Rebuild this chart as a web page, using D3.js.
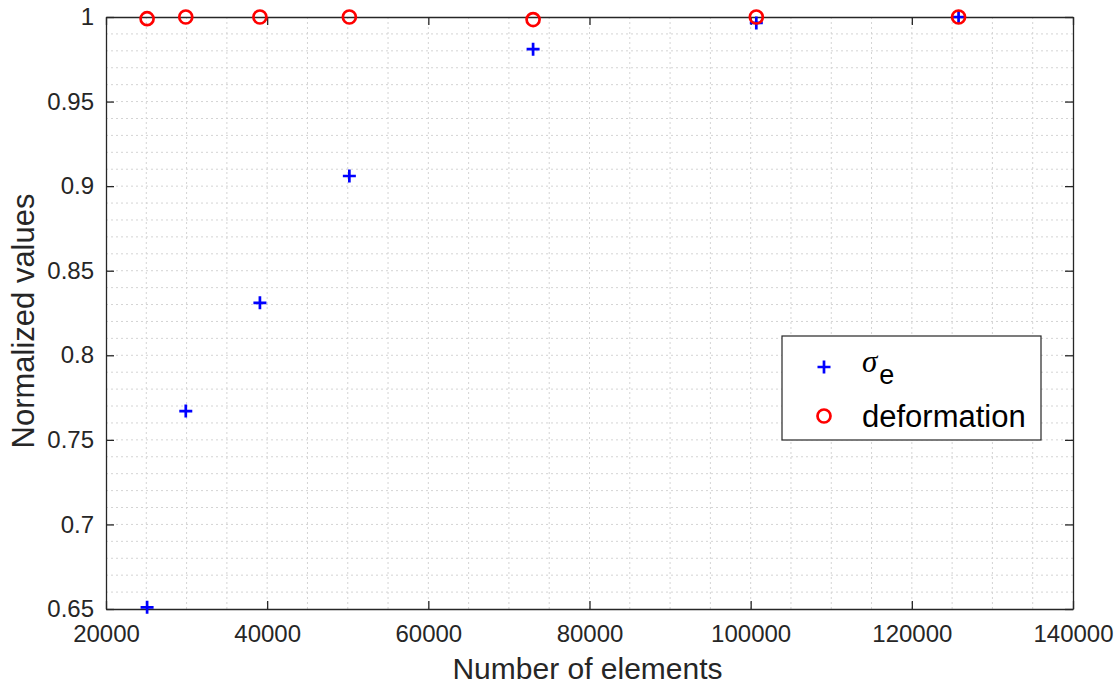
<!DOCTYPE html>
<html>
<head>
<meta charset="utf-8">
<script src="https://cdn.jsdelivr.net/npm/d3@7"></script>
<style>
  body { margin: 0; background: #fff; }
  text { font-family: "Liberation Sans", Arial, sans-serif; fill: #262626; }
</style>
</head>
<body>
<svg width="1117" height="687"></svg>
<script>
const elements = [25100, 29900, 39100, 50200, 73000, 100700, 125800];
const sigmaE = [0.651, 0.767, 0.831, 0.906, 0.981, 0.9965, 1.0];
const deformation = [0.999, 1.0, 1.0, 1.0, 0.9985, 1.0, 1.0];
const xTicks = [20000, 40000, 60000, 80000, 100000, 120000, 140000];
const yTicks = [0.65, 0.7, 0.75, 0.8, 0.85, 0.9, 0.95, 1];

const svg = d3.select("svg"),
  margin = { top: 17, right: 44, bottom: 78, left: 106 },
  width = 1117 - margin.left - margin.right,
  height = 687 - margin.top - margin.bottom;

const x = d3.scaleLinear().domain([20000, 140000]).range([0, width]);
const y = d3.scaleLinear().domain([0.65, 1]).range([height, 0]);

const g = svg.append("g")
  .attr("transform", "translate(" + margin.left + "," + margin.top + ")");

// minor dotted grid
const xMinor = d3.range(25000, 140000, 5000);
const yMinor = d3.range(66, 100).map(d => d / 100);
g.append("g").selectAll("line").data(xMinor).join("line")
  .attr("x1", d => x(d)).attr("x2", d => x(d))
  .attr("y1", 0).attr("y2", height)
  .attr("stroke", "#d4d4d4").attr("stroke-dasharray", "2,3");
g.append("g").selectAll("line").data(yMinor).join("line")
  .attr("y1", d => y(d)).attr("y2", d => y(d))
  .attr("x1", 0).attr("x2", width)
  .attr("stroke", "#d4d4d4").attr("stroke-dasharray", "2,3");

// axes (box with inward ticks)
const xAxis = g.append("g").attr("transform", "translate(0," + height + ")")
  .call(d3.axisBottom(x).tickValues(xTicks).tickSizeInner(-8).tickSizeOuter(0).tickPadding(16).tickFormat(d3.format("d")));
const yAxis = g.append("g")
  .call(d3.axisLeft(y).tickValues(yTicks).tickSizeInner(-8).tickSizeOuter(0).tickPadding(12).tickFormat(d => d3.format("")(d)));
g.append("g").call(d3.axisTop(x).tickValues(xTicks).tickSizeInner(-8).tickSizeOuter(0).tickFormat(""));
g.append("g").attr("transform", "translate(" + width + ",0)")
  .call(d3.axisRight(y).tickValues(yTicks).tickSizeInner(-8).tickSizeOuter(0).tickFormat(""));

g.selectAll(".domain").attr("stroke", "#262626").attr("stroke-width", 1.3);
g.selectAll(".tick line").attr("stroke", "#262626").attr("stroke-width", 1.3);
g.selectAll(".tick text").style("font-size", "24px").style("fill", "#262626")
  .style("font-family", "Liberation Sans, Arial, sans-serif");
xAxis.selectAll(".tick text").attr("dy", "0.72em");

// axis labels
svg.append("text")
  .attr("x", margin.left + width / 2 - 2).attr("y", 679)
  .attr("text-anchor", "middle").style("font-size", "30px")
  .text("Number of elements");
svg.append("text")
  .attr("transform", "translate(34," + (margin.top + height / 2 + 8) + ") rotate(-90)")
  .attr("text-anchor", "middle").style("font-size", "31px")
  .text("Normalized values");

// markers
function plusPath(s) {
  return "M" + (-s) + ",0H" + s + "M0," + (-s) + "V" + s;
}
g.append("g").selectAll("path").data(elements).join("path")
  .attr("d", plusPath(6.5))
  .attr("transform", (d, i) => "translate(" + x(d) + "," + y(sigmaE[i]) + ")")
  .attr("stroke", "#0000ff").attr("stroke-width", 2.7).attr("fill", "none");
g.append("g").selectAll("circle").data(elements).join("circle")
  .attr("cx", d => x(d)).attr("cy", (d, i) => y(deformation[i]))
  .attr("r", 6.5)
  .attr("stroke", "#ff0000").attr("stroke-width", 2.7).attr("fill", "none");

// legend
const lg = svg.append("g").attr("transform", "translate(782,336)");
lg.append("rect").attr("width", 259).attr("height", 104)
  .attr("fill", "#fff").attr("stroke", "#262626").attr("stroke-width", 1.2);
lg.append("path").attr("d", plusPath(6.5)).attr("transform", "translate(42,31)")
  .attr("stroke", "#0000ff").attr("stroke-width", 2.7).attr("fill", "none");
lg.append("circle").attr("cx", 42).attr("cy", 80).attr("r", 6.5)
  .attr("stroke", "#ff0000").attr("stroke-width", 2.7).attr("fill", "none");
const st = lg.append("text").attr("x", 80).attr("y", 36).style("font-size", "31px").style("fill", "#000");
st.append("tspan").style("font-style", "italic").style("font-family", "Liberation Serif, serif").text("σ");
st.append("tspan").attr("dy", 12).attr("dx", 2).style("font-size", "27px").text("e");
lg.append("text").attr("x", 80).attr("y", 91).style("font-size", "31px").style("fill", "#000").text("deformation");
</script>
</body>
</html>
